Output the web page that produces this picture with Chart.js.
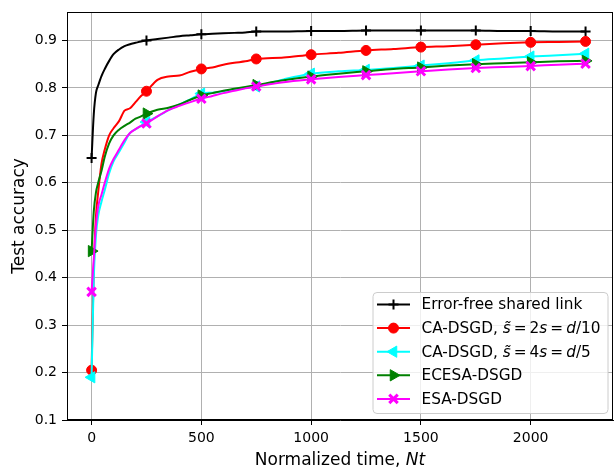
<!DOCTYPE html>
<html><head><meta charset="utf-8">
<script src="https://cdn.jsdelivr.net/npm/chart.js@4.4.0/dist/chart.umd.min.js"></script>
<style>html,body{margin:0;padding:0;background:#fff}#wrap{width:615px;height:467px}</style>
</head><body><div id="wrap"><canvas id="c" width="615" height="467"></canvas></div>
<script>
// ---- data ----
const normalizedTime = [0,10,20,30,45,60,80,100,125,150,175,200,225,250,300,350,400,450,500,550,600,650,700,750,875,1000,1125,1250,1375,1500,1625,1750,1875,2000,2125,2250];
const errorFree = [0.652,0.745,0.79,0.805,0.825,0.84,0.857,0.871,0.881,0.888,0.892,0.895,0.898,0.900,0.903,0.906,0.909,0.911,0.913,0.914,0.915,0.916,0.917,0.919,0.919,0.920,0.920,0.921,0.921,0.921,0.921,0.921,0.920,0.920,0.919,0.919];
const caDsgd10 = [0.205,0.42,0.53,0.58,0.64,0.67,0.70,0.715,0.73,0.752,0.757,0.77,0.783,0.793,0.817,0.824,0.826,0.834,0.84,0.843,0.849,0.853,0.856,0.861,0.864,0.87,0.874,0.879,0.882,0.886,0.888,0.891,0.894,0.896,0.897,0.898];
const caDsgd5 = [0.19,0.40,0.49,0.53,0.56,0.585,0.62,0.645,0.665,0.685,0.705,0.713,0.72,0.728,0.74,0.753,0.765,0.776,0.788,0.79,0.793,0.797,0.80,0.803,0.818,0.83,0.835,0.838,0.842,0.847,0.852,0.858,0.862,0.866,0.869,0.872];
const ecesaDsgd = [0.456,0.54,0.58,0.60,0.625,0.655,0.683,0.70,0.712,0.72,0.727,0.735,0.74,0.746,0.754,0.758,0.765,0.775,0.784,0.789,0.794,0.798,0.802,0.806,0.816,0.824,0.83,0.835,0.84,0.843,0.847,0.85,0.852,0.854,0.856,0.857];
const esaDsgd = [0.37,0.44,0.51,0.55,0.575,0.60,0.63,0.65,0.67,0.69,0.705,0.713,0.72,0.725,0.74,0.753,0.762,0.77,0.777,0.783,0.789,0.794,0.799,0.803,0.812,0.818,0.823,0.827,0.831,0.835,0.839,0.842,0.844,0.846,0.849,0.851];
const seriesNames = ["Error-free shared link","CA-DSGD, *s̃*\u2009=\u20092*s*\u2009=\u2009*d*/10","CA-DSGD, *s̃*\u2009=\u20094*s*\u2009=\u2009*d*/5","ECESA-DSGD","ESA-DSGD"];
const xTickValues = [0,500,1000,1500,2000];
const yTickValues = [0.1,0.2,0.3,0.4,0.5,0.6,0.7,0.8,0.9];
const xTitle = "Normalized time, *Nt*";
const yTitle = "Test accuracy";

// ---- styles ----
const FONT = "DejaVu Sans";
const styles = [
  {color:'#000000', pointStyle:'cross', r:5, bw:2, rot:0, fill:'#000000'},
  {color:'#ff0000', pointStyle:'circle', r:5, bw:1, rot:0, fill:'#ff0000'},
  {color:'#00ffff', pointStyle:'triangle', r:6.5, bw:1, rot:-90, fill:'#00ffff'},
  {color:'#008000', pointStyle:'triangle', r:6.5, bw:1, rot:90, fill:'#008000'},
  {color:'#ff00ff', pointStyle:'crossRot', r:6, bw:3, rot:0, fill:'#ff00ff'}
];
const seriesValues = [errorFree, caDsgd10, caDsgd5, ecesaDsgd, esaDsgd];

const datasets = seriesValues.map((vals, i) => {
  const s = styles[i];
  return {
    label: seriesNames[i],
    data: normalizedTime.map((x, j) => ({x: x, y: vals[j]})),
    borderColor: s.color, backgroundColor: s.fill, borderWidth: 2,
    pointStyle: s.pointStyle, pointRotation: s.rot,
    pointBackgroundColor: s.fill, pointBorderColor: s.color, pointBorderWidth: s.bw,
    pointRadius: c => (c.raw && c.raw.x % 250 === 0) ? s.r : 0,
    pointHoverRadius: 0, pointHitRadius: 0,
    cubicInterpolationMode: 'monotone', fill: false,
    order: 5 - i
  };
});

function drawSegments(ctx, text, x, y, size, align) {
  const parts = text.split('*');
  const fonts = parts.map((p, k) => (k % 2 ? 'oblique ' : '') + size + 'px "' + FONT + '"');
  let total = 0;
  parts.forEach((p, k) => { ctx.font = fonts[k]; total += ctx.measureText(p).width; });
  let cx = align === 'center' ? x - total / 2 : x;
  ctx.textAlign = 'left';
  parts.forEach((p, k) => { ctx.font = fonts[k]; ctx.fillText(p, cx, y); cx += ctx.measureText(p).width; });
}

function marker(ctx, s, x, y) {
  ctx.save();
  ctx.fillStyle = s.fill; ctx.strokeStyle = s.color; ctx.lineWidth = s.bw;
  ctx.beginPath();
  if (s.pointStyle === 'circle') { ctx.arc(x, y, s.r, 0, Math.PI * 2); ctx.fill(); ctx.stroke(); }
  else if (s.pointStyle === 'triangle') {
    let rad = s.rot * Math.PI / 180;
    for (let k = 0; k < 3; k++) { const px = x + Math.sin(rad) * s.r, py = y - Math.cos(rad) * s.r; k ? ctx.lineTo(px, py) : ctx.moveTo(px, py); rad += 2 * Math.PI / 3; }
    ctx.closePath(); ctx.fill(); ctx.stroke();
  } else if (s.pointStyle === 'cross') {
    ctx.moveTo(x, y - s.r); ctx.lineTo(x, y + s.r); ctx.moveTo(x - s.r, y); ctx.lineTo(x + s.r, y); ctx.stroke();
  } else {
    const d = s.r * Math.SQRT1_2;
    ctx.moveTo(x - d, y - d); ctx.lineTo(x + d, y + d); ctx.moveTo(x - d, y + d); ctx.lineTo(x + d, y - d); ctx.stroke();
  }
  ctx.restore();
}

const overlay = {
  id: 'overlay',
  afterDraw(chart) {
    const ctx = chart.ctx, a = chart.chartArea;
    ctx.save();
    // spines
    ctx.strokeStyle = '#000'; ctx.lineWidth = 1;
    ctx.strokeRect(Math.round(a.left) + 0.5, Math.round(a.top) + 0.5, Math.round(a.right - a.left) - 1, Math.round(a.bottom - a.top) - 1);
    // axis titles
    ctx.fillStyle = '#000'; ctx.textBaseline = 'alphabetic';
    drawSegments(ctx, xTitle, (a.left + a.right) / 2, 465, 17, 'center');
    ctx.save();
    ctx.translate(24, (a.top + a.bottom) / 2); ctx.rotate(-Math.PI / 2);
    drawSegments(ctx, yTitle, 0, 0, 17, 'center');
    ctx.restore();
    // legend
    const w = 235, h = 121;
    const lx = a.right - 5.5 - w, ly = a.bottom - 7 - h;
    ctx.beginPath();
    ctx.roundRect(lx + 0.5, ly + 0.5, w, h, 4);
    ctx.fillStyle = 'rgba(255,255,255,0.8)'; ctx.fill();
    ctx.strokeStyle = '#cccccc'; ctx.lineWidth = 1; ctx.stroke();
    seriesNames.forEach((name, i) => {
      const y = ly + 12.5 + i * 23.6;
      const s = styles[i];
      ctx.strokeStyle = s.color; ctx.lineWidth = 2;
      ctx.beginPath(); ctx.moveTo(lx + 4.5, y); ctx.lineTo(lx + 37.5, y); ctx.stroke();
      marker(ctx, s, lx + 21, y);
      ctx.fillStyle = '#000'; ctx.textBaseline = 'middle';
      drawSegments(ctx, name, lx + 49, y + 1, 15.3, 'left');
    });
    ctx.restore();
  }
};

new Chart(document.getElementById('c'), {
  type: 'line',
  data: {datasets},
  options: {
    responsive: false, animation: false, events: [],
    layout: {autoPadding: false, padding: {top: 12, right: 2, left: 0, bottom: 0}},
    plugins: {legend: {display: false}, tooltip: {enabled: false}},
    scales: {
      x: {
        type: 'linear', min: -112, max: 2375,
        afterBuildTicks: s => { s.ticks = xTickValues.map(v => ({value: v})); },
        afterFit: s => { s.height = 47; s.paddingLeft = 0; s.paddingRight = 0; s.paddingTop = 0; s.paddingBottom = 0; },
        grid: {color: '#b0b0b0', lineWidth: 1, tickColor: '#000', tickLength: 5},
        border: {color: '#000', width: 1},
        ticks: {color: '#000', font: {family: FONT, size: 14}, padding: 5, maxRotation: 0, autoSkip: false, callback: v => String(v)}
      },
      y: {
        type: 'linear', min: 0.1, max: 0.96,
        afterBuildTicks: s => { s.ticks = yTickValues.map(v => ({value: v})); },
        afterFit: s => { s.width = 67; s.paddingLeft = 0; s.paddingRight = 0; s.paddingTop = 0; s.paddingBottom = 0; },
        grid: {color: '#b0b0b0', lineWidth: 1, tickColor: '#000', tickLength: 5},
        border: {color: '#000', width: 1},
        ticks: {color: '#000', font: {family: FONT, size: 14}, padding: 5, autoSkip: false, callback: v => v.toFixed(1)}
      }
    }
  },
  plugins: [overlay]
});
</script>
</body></html>
